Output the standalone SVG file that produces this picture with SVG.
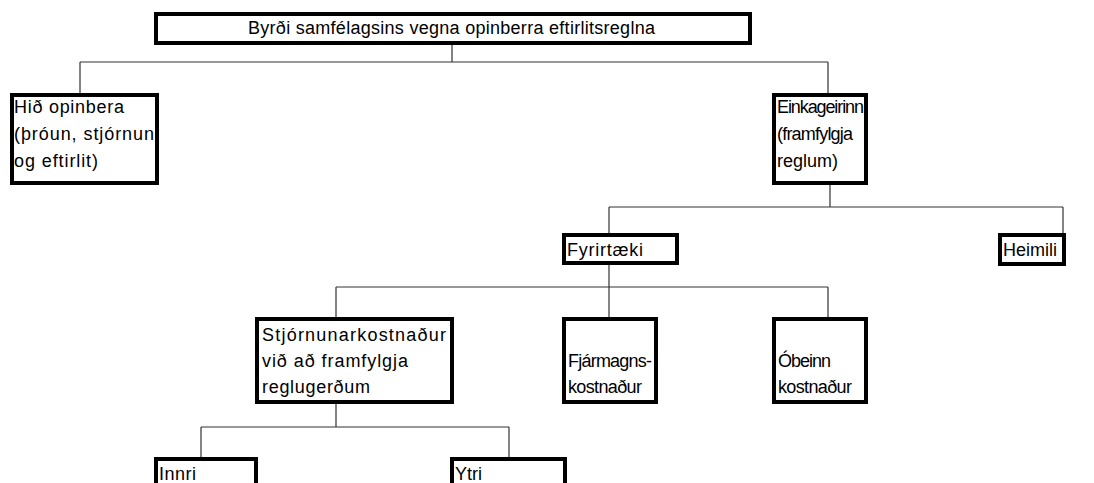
<svg xmlns="http://www.w3.org/2000/svg" width="1094" height="483" viewBox="0 0 1094 483">
<style>
.box{fill:#fff;stroke:#000;stroke-width:4}
.t{font-family:"Liberation Sans",Arial,sans-serif;font-size:18px;fill:#000}
.c{fill:none;stroke:#333;stroke-width:1.2}
</style>
<rect width="1094" height="483" fill="#fff"/>
<g id="connectors">
<path class="c" d="M452 43V62M80 62H828M80 62V93M828 62V94"/>
<path class="c" d="M830 183V207M609 207H1063M609 207V234M1063 207V233"/>
<path class="c" d="M609 263V287M336 287H828M336 287V318M609 287V318M828 287V318"/>
<path class="c" d="M336 402V427M201 427H509M201 427V457M509 427V457"/>
</g>
<g id="n-root"><rect class="box" x="156" y="14" width="594" height="29"/><text class="t" x="248" y="34" textLength="407">Byrði samfélagsins vegna opinberra eftirlitsreglna</text></g>
<g id="n-opinbera"><rect class="box" x="12" y="95" width="145" height="88"/><text class="t"><tspan x="14" y="113" textLength="110">Hið opinbera</tspan><tspan x="14" y="140" textLength="140">(þróun, stjórnun</tspan><tspan x="14" y="167" textLength="84">og eftirlit)</tspan></text></g>
<g id="n-einka"><rect class="box" x="774" y="95" width="92" height="88"/><text class="t"><tspan x="777" y="113" textLength="87">Einkageirinn</tspan><tspan x="777" y="140" textLength="76">(framfylgja</tspan><tspan x="777" y="167">reglum)</tspan></text></g>
<g id="n-fyrirtaeki"><rect class="box" x="564" y="235" width="113" height="28"/><text class="t" x="567" y="256" textLength="76">Fyrirtæki</text></g>
<g id="n-heimili"><rect class="box" x="1000" y="235" width="64" height="29"/><text class="t" x="1003" y="256">Heimili</text></g>
<g id="n-stjorn"><rect class="box" x="257" y="319" width="195" height="83"/><text class="t"><tspan x="262" y="341" textLength="184">Stjórnunarkostnaður</tspan><tspan x="262" y="367" textLength="146">við að framfylgja</tspan><tspan x="262" y="393" textLength="108">reglugerðum</tspan></text></g>
<g id="n-fjarmagn"><rect class="box" x="564" y="319" width="92" height="83"/><text class="t"><tspan x="568" y="367" textLength="84">Fjármagns-</tspan><tspan x="568" y="393" textLength="74">kostnaður</tspan></text></g>
<g id="n-obeinn"><rect class="box" x="774" y="319" width="92" height="83"/><text class="t"><tspan x="778" y="367" textLength="53">Óbeinn</tspan><tspan x="778" y="393" textLength="74">kostnaður</tspan></text></g>
<g id="n-innri"><rect class="box" x="156" y="459" width="100" height="40"/><text class="t" x="159" y="480" textLength="37">Innri</text></g>
<g id="n-ytri"><rect class="box" x="452" y="459" width="113" height="40"/><text class="t" x="455" y="480">Ytri</text></g>
</svg>
